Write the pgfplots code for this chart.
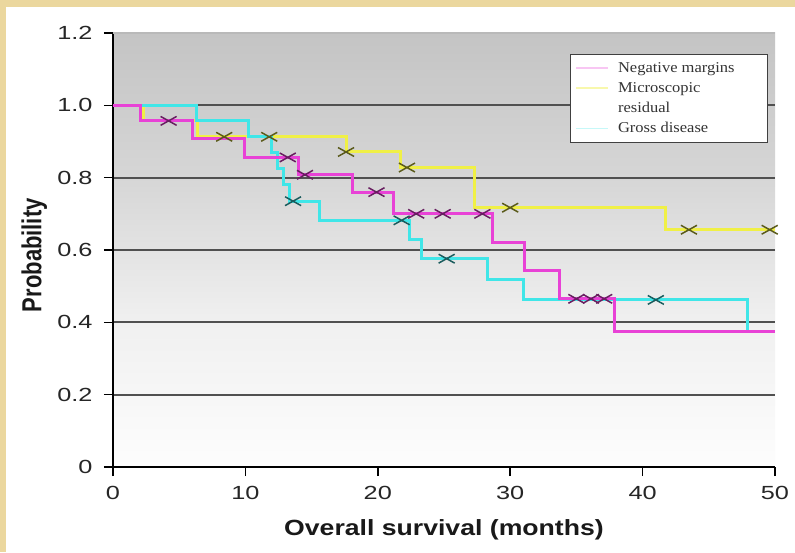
\documentclass[border=0pt]{standalone}
\usepackage{pgfplots}
\pgfplotsset{compat=1.18}
\usepackage{fontspec}
\setmainfont{Liberation Sans}
\newfontfamily\widesans[FakeStretch=1.33]{Liberation Sans}
\newfontfamily\widebold[FakeStretch=1.21]{Liberation Sans Bold}
\newfontfamily\legfont[FakeStretch=1.1]{Liberation Serif}
\definecolor{beige}{HTML}{EBD79E}
\definecolor{kmmag}{RGB}{232,66,214}
\definecolor{kmyel}{RGB}{240,240,70}
\definecolor{kmcyan}{RGB}{64,230,232}
\definecolor{gridc}{HTML}{505050}
\definecolor{bgA}{HTML}{C4C4C4}
\definecolor{bgB}{HTML}{D6D6D6}
\definecolor{bgC}{HTML}{F0F0F0}
\definecolor{bgD}{HTML}{FDFDFD}
\pgfdeclareverticalshading{kmbg}{100bp}{color(0bp)=(bgD); color(25bp)=(bgD); color(41.67bp)=(bgC); color(58.33bp)=(bgB); color(75bp)=(bgA); color(100bp)=(bgA)}
\begin{document}
\begin{tikzpicture}
\path[fill=white,use as bounding box] (0pt,0pt) rectangle (795pt,552pt);
\fill[beige] (0pt,0pt) rectangle (6pt,552pt);
\fill[beige] (0pt,545pt) rectangle (795pt,552pt);
\begin{axis}[
  at={(113pt,85pt)}, anchor=south west,
  scale only axis, width=662pt, height=434pt,
  xmin=0, xmax=50, ymin=0, ymax=1.2,
  axis background/.style={shading=kmbg},
  axis x line*=bottom, axis y line*=left,
  axis line style={-, black, line width=2.4pt},
  xtick={0,10,20,30,40,50},
  xticklabels={0,10,20,30,40,50},
  ytick={0,0.2,0.4,0.6,0.8,1.0,1.2},
  yticklabels={0,0.2,0.4,0.6,0.8,1.0,1.2},
  ymajorgrids,
  grid style={gridc, line width=1.8pt},
  tick align=outside, major tick length=9pt,
  tick style={black, line width=1.6pt},
  ticklabel style={font=\widesans\fontsize{19}{19}\selectfont, text=black!85},
  yticklabel style={xshift=-8pt},
  xticklabel style={yshift=-7pt},
  xlabel={\widebold\fontsize{22}{22}\selectfont Overall survival (months)},
  xlabel style={at={(axis description cs:0.5,-0.157)}, anchor=base, text=black!90},
  ylabel={\scalebox{1}[1.25]{\bfseries\fontsize{22}{22}\selectfont Probability}},
  ylabel style={at={(axis description cs:-0.119,0.488)}, anchor=center, text=black!90},
  legend style={at={(0.69,0.952)}, anchor=north west,
    draw=black!75, line width=0.9pt, fill=white,
    font=\legfont\fontsize{15}{15}\selectfont, text=black!80,
    row sep=4.5pt, column sep=7pt, inner xsep=5pt, inner ysep=6pt,
    cells={anchor=west}},
  legend image code/.code={\draw[#1, line width=1.8pt] (3pt,0pt) -- (35pt,0pt);},
]
% top border line (lighter)
\addplot[gray!55, line width=1.9pt, forget plot] coordinates {(0,1.2) (50,1.2)};
% Microscopic residual (yellow)
\addplot[const plot, kmyel, line width=3pt, forget plot] coordinates {
(0,1) (2.3,0.957) (6.4,0.913) (17.6,0.871) (21.7,0.828) (27.3,0.717) (41.7,0.656) (50,0.656)};
% Gross disease (cyan)
\addplot[const plot, kmcyan, line width=3pt, forget plot] coordinates {
(0,1) (6.3,0.957) (10.2,0.913) (12.0,0.87) (12.4,0.826) (12.9,0.78) (13.3,0.735) (15.6,0.682)
(22.4,0.63) (23.3,0.576) (28.3,0.518) (31.0,0.462) (47.9,0.374) (50,0.374)};
% Negative margins (magenta)
\addplot[const plot, kmmag, line width=3pt, forget plot] coordinates {
(0,1) (2.1,0.957) (6.0,0.907) (9.9,0.856) (14.0,0.808) (18.1,0.76) (21.2,0.70)
(28.7,0.622) (31.1,0.542) (33.7,0.465) (37.9,0.374) (50,0.374)};

% censor marks
\addplot[only marks, mark=x, mark size=6.3pt, forget plot,
  mark options={xscale=1.8, line width=1.5pt, draw=black!62!kmyel}] coordinates {
(8.4,0.913) (11.8,0.913) (17.6,0.871) (22.2,0.828) (30.0,0.717) (43.5,0.656) (49.6,0.656)};
\addplot[only marks, mark=x, mark size=6.3pt, forget plot,
  mark options={xscale=1.8, line width=1.5pt, draw=black!60!kmcyan}] coordinates {
(13.6,0.735) (21.8,0.682) (25.2,0.576) (41.0,0.462)};
\addplot[only marks, mark=x, mark size=6.3pt, forget plot,
  mark options={xscale=1.8, line width=1.5pt, draw=black!55!kmmag}] coordinates {
(4.2,0.957) (13.2,0.856) (14.5,0.808) (19.9,0.76) (22.9,0.70) (24.9,0.70) (27.9,0.70)
(35.0,0.465) (36.1,0.465) (37.1,0.465)};

\addlegendimage{kmmag!30}
\addlegendentry{Negative margins\hspace*{26pt}}
\addlegendimage{kmyel!45}
\addlegendentry{Microscopic}
\addlegendimage{white}
\addlegendentry{residual}
\addlegendimage{kmcyan!30}
\addlegendentry{Gross disease}
\end{axis}
\end{tikzpicture}
\end{document}
